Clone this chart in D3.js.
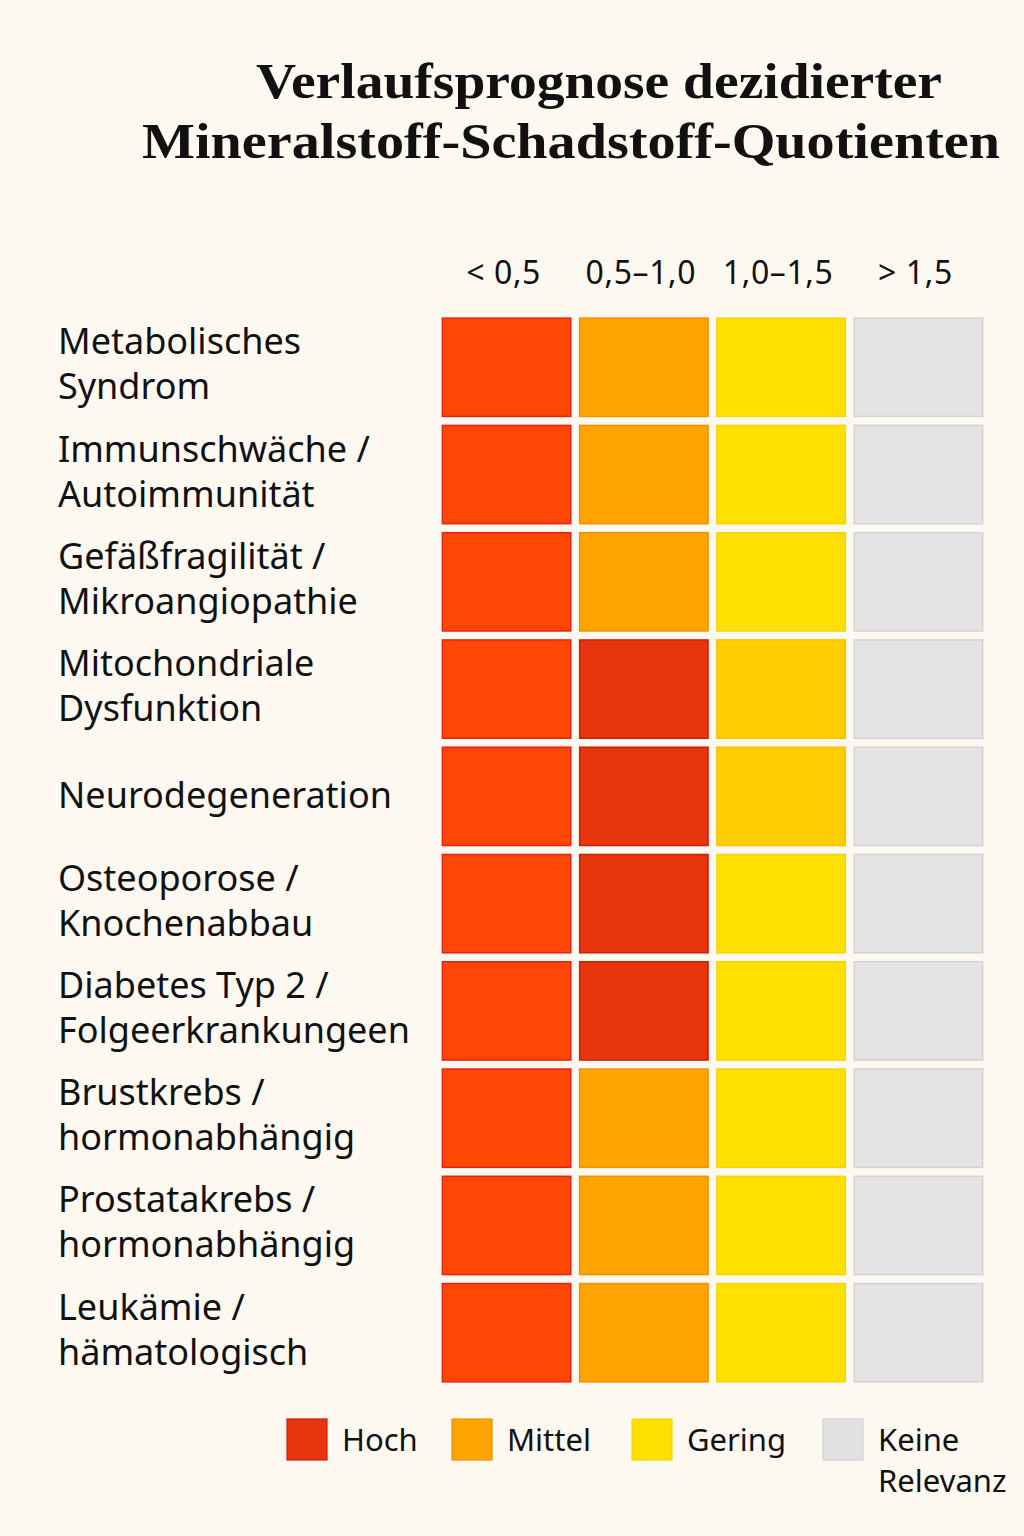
<!DOCTYPE html>
<html>
<head>
<meta charset="utf-8">
<script src="https://cdn.jsdelivr.net/npm/d3@7"></script>
<style>
  body { margin: 0; background: #fdf9f1; }
  svg { display: block; }
</style>
</head>
<body>
<div id="chart"></div>
<script>
// Daten
const titleLines = ["Verlaufsprognose dezidierter", "Mineralstoff-Schadstoff-Quotienten"];
const columns = ["< 0,5", "0,5–1,0", "1,0–1,5", "> 1,5"];
const rows = [
  ["Metabolisches", "Syndrom"],
  ["Immunschwäche /", "Autoimmunität"],
  ["Gefäßfragilität /", "Mikroangiopathie"],
  ["Mitochondriale", "Dysfunktion"],
  ["Neurodegeneration"],
  ["Osteoporose /", "Knochenabbau"],
  ["Diabetes Typ 2 /", "Folgeerkrankungeen"],
  ["Brustkrebs /", "hormonabhängig"],
  ["Prostatakrebs /", "hormonabhängig"],
  ["Leukämie /", "hämatologisch"]
];
// Stufe je Zelle: hoch, hoch2 (dunkler), mittel, gering, gering2 (dunkler), keine
const levels = [
  ["hoch", "mittel", "gering", "keine"],
  ["hoch", "mittel", "gering", "keine"],
  ["hoch", "mittel", "gering", "keine"],
  ["hoch", "hoch2", "gering2", "keine"],
  ["hoch", "hoch2", "gering2", "keine"],
  ["hoch", "hoch2", "gering", "keine"],
  ["hoch", "hoch2", "gering", "keine"],
  ["hoch", "mittel", "gering", "keine"],
  ["hoch", "mittel", "gering", "keine"],
  ["hoch", "mittel", "gering", "keine"]
];
const legendKeys = ["hoch2", "mittel", "gering", "keine"];
const legendLabels = [["Hoch"], ["Mittel"], ["Gering"], ["Keine", "Relevanz"]];

const fill = { hoch: "#ff4604", hoch2: "#e8350e", mittel: "#ffa400", gering: "#ffe000", gering2: "#ffcd00", keine: "#e4e4e4" };
const stroke = { hoch: "#e8201a", hoch2: "#c8200c", mittel: "#f39000", gering: "#f8d400", gering2: "#f5c200", keine: "#d2d2d2" };

const w = 1024, h = 1536;
const svg = d3.select("#chart").append("svg").attr("width", w).attr("height", h);

// Titel
svg.append("text").attr("x", 256).attr("y", 98)
  .attr("font-family", "Liberation Serif, serif").attr("font-weight", "bold").attr("font-size", 50)
  .attr("textLength", 686).attr("lengthAdjust", "spacingAndGlyphs")
  .attr("fill", "#111").text(titleLines[0]);
svg.append("text").attr("x", 142).attr("y", 158)
  .attr("font-family", "Liberation Serif, serif").attr("font-weight", "bold").attr("font-size", 50)
  .attr("textLength", 858).attr("lengthAdjust", "spacingAndGlyphs")
  .attr("fill", "#111").text(titleLines[1]);

const x = d3.scaleBand().domain(columns).range([440, 985]).paddingInner(0.05).paddingOuter(0.01);
const y = d3.scaleBand().domain(d3.range(rows.length)).range([315, 1385]).paddingInner(0.065).paddingOuter(0.02);

// Spaltenkopf
svg.selectAll(".colhead").data(columns).enter().append("text")
  .attr("x", d => x(d) + x.bandwidth() / 2 - 3)
  .attr("y", 284)
  .attr("text-anchor", "middle")
  .attr("font-family", "Noto Sans, sans-serif").attr("font-size", 32)
  .attr("letter-spacing", 0.6)
  .attr("fill", "#111").text(d => d);

// Zellen
rows.forEach((r, i) => {
  svg.selectAll(".cell" + i).data(levels[i]).enter().append("rect")
    .attr("x", (d, j) => x(columns[j]) + 1)
    .attr("y", y(i) + 1)
    .attr("width", x.bandwidth() - 2)
    .attr("height", y.bandwidth() - 2)
    .attr("fill", d => fill[d])
    .attr("stroke", d => stroke[d])
    .attr("stroke-width", 1.5);
});

// Zeilenbeschriftung
rows.forEach((r, i) => {
  const cy = y(i) + y.bandwidth() / 2;
  const t = svg.append("text")
    .attr("font-family", "Noto Sans, sans-serif").attr("font-size", 36)
    .attr("fill", "#111");
  r.forEach((line, k) => {
    t.append("tspan").attr("x", 58)
      .attr("y", r.length == 1 ? cy + 12 : cy - 13 + k * 45)
      .text(line);
  });
});

// Legende
const lx = [287, 452, 632, 823];
legendKeys.forEach((k, i) => {
  svg.append("rect").attr("x", lx[i]).attr("y", 1419).attr("width", 40).attr("height", 41)
    .attr("fill", k == "keine" ? "#e2e2e2" : fill[k]).attr("stroke", stroke[k]).attr("stroke-width", 1.2);
  const t = svg.append("text").attr("font-family", "Noto Sans, sans-serif").attr("font-size", 31).attr("fill", "#111");
  legendLabels[i].forEach((line, n) => {
    t.append("tspan").attr("x", lx[i] + 55).attr("y", 1451 + n * 41).text(line);
  });
});
</script>
</body>
</html>
